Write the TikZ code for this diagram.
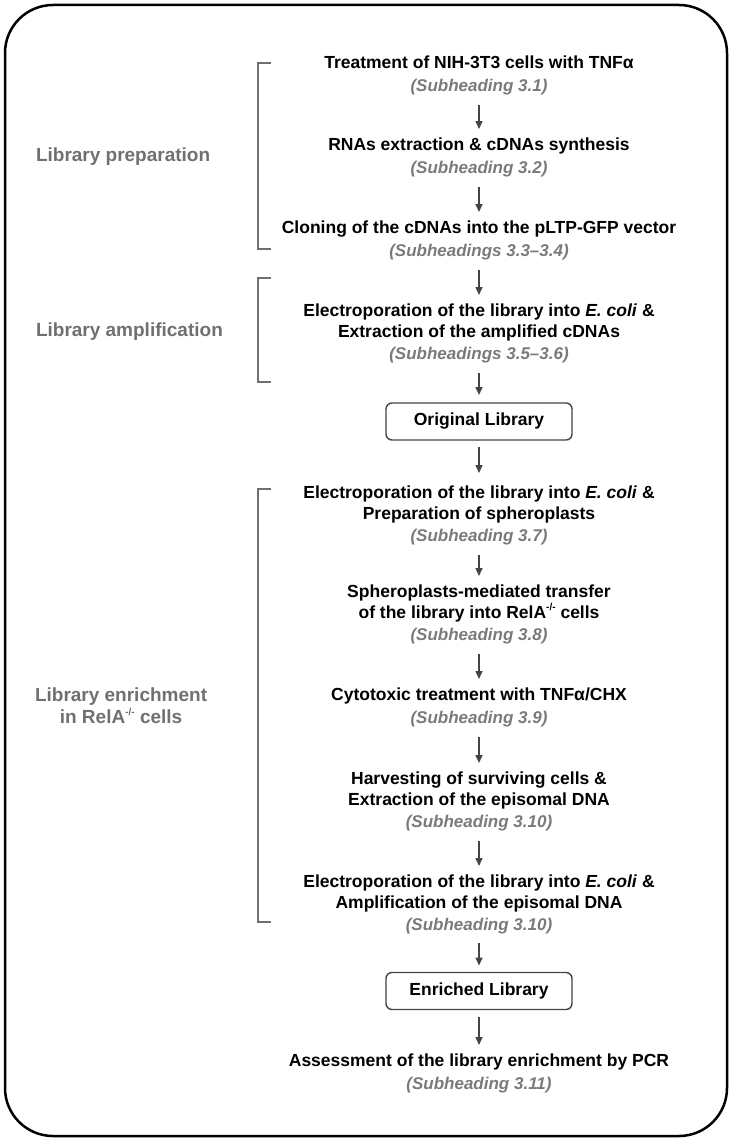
\documentclass[tikz,border=0pt]{standalone}
\usepackage{fontspec}
\setmainfont{Liberation Sans}
\usetikzlibrary{arrows.meta}
\definecolor{lbl}{HTML}{707070}
\definecolor{subc}{HTML}{7A7A7A}
\definecolor{arrc}{HTML}{444444}
\newcommand\subh[1]{\\[2pt]{\color{subc}\fontsize{17}{20}\selectfont\bfseries\itshape #1}}
\newcommand\kosup{\raisebox{0.42em}{\fontsize{10}{10}\selectfont -/-}}
\begin{document}
\begin{tikzpicture}[x=1pt,y=-1pt,
  every node/.style={inner sep=0pt, outer sep=0pt},
  stepnode/.style={align=center, font=\fontsize{17.5}{20.5}\selectfont\bfseries, anchor=north},
  libbox/.style={draw=arrc, line width=1.4pt, rounded corners=6pt, minimum width=186pt, minimum height=37pt, font=\fontsize{17.5}{20.5}\selectfont\bfseries},
  grouplbl/.style={align=center, anchor=west, text=lbl, font=\fontsize{19}{22}\selectfont\bfseries},
  flow/.style={draw=arrc, line width=1.5pt, -{Triangle[length=8pt,width=7pt]}, shorten <=10pt, shorten >=9pt},
  bracket/.style={draw=lbl, line width=1.5pt},
  frame/.style={draw=black, line width=2.5pt, rounded corners=48pt}
]
\useasboundingbox (0,0) rectangle (731,1140);
\draw[frame] (5,5) rectangle (727,1136);

\node[stepnode] (s1) at (479,56) {Treatment of NIH-3T3 cells with TNFα\subh{(Subheading 3.1)}};
\node[stepnode] (s2) at (479,138) {RNAs extraction \& cDNAs synthesis\subh{(Subheading 3.2)}};
\node[stepnode] (s3) at (479,221) {Cloning of the cDNAs into the pLTP-GFP vector\subh{(Subheadings 3.3–3.4)}};
\node[stepnode] (s4) at (479,304) {Electroporation of the library into \textit{E. coli} \&\\Extraction of the amplified cDNAs\subh{(Subheadings 3.5–3.6)}};
\node[libbox] (orig) at (479,421.5) {Original Library};
\node[stepnode] (s5) at (479,486) {Electroporation of the library into \textit{E. coli} \&\\Preparation of spheroplasts\subh{(Subheading 3.7)}};
\node[stepnode] (s6) at (479,585) {Spheroplasts-mediated transfer\\of the library into RelA\kosup{} cells\subh{(Subheading 3.8)}};
\node[stepnode] (s7) at (479,688) {Cytotoxic treatment with TNFα/CHX\subh{(Subheading 3.9)}};
\node[stepnode] (s8) at (479,772) {Harvesting of surviving cells \&\\Extraction of the episomal DNA\subh{(Subheading 3.10)}};
\node[stepnode] (s9) at (479,875) {Electroporation of the library into \textit{E. coli} \&\\Amplification of the episomal DNA\subh{(Subheading 3.10)}};
\node[libbox] (enr) at (479,991) {Enriched Library};
\node[stepnode] (s10) at (479,1054) {Assessment of the library enrichment by PCR\subh{(Subheading 3.11)}};

\draw[flow] (s1.south) -- (s2.north);
\draw[flow] (s2.south) -- (s3.north);
\draw[flow] (s3.south) -- (s4.north);
\draw[flow, shorten >=8pt] (s4.south) -- (orig.north);
\draw[flow, shorten <=7pt, shorten >=13pt] (orig.south) -- (s5.north);
\draw[flow] (s5.south) -- (s6.north);
\draw[flow] (s6.south) -- (s7.north);
\draw[flow] (s7.south) -- (s8.north);
\draw[flow] (s8.south) -- (s9.north);
\draw[flow, shorten <=9pt, shorten >=7pt] (s9.south) -- (enr.north);
\draw[flow, shorten <=7pt] (enr.south) -- (s10.north);

\draw[bracket] (271,63) -- (258,63) -- (258,249) -- (271,249);
\draw[bracket] (271,278) -- (258,278) -- (258,382) -- (271,382);
\draw[bracket] (271,489) -- (258,489) -- (258,922) -- (271,922);

\node[grouplbl] (g1) at (36,157) {Library preparation};
\node[grouplbl] (g2) at (36,332) {Library amplification};
\node[grouplbl] (g3) at (35,706) {Library enrichment\\in RelA\kosup{} cells};
\end{tikzpicture}
\end{document}
